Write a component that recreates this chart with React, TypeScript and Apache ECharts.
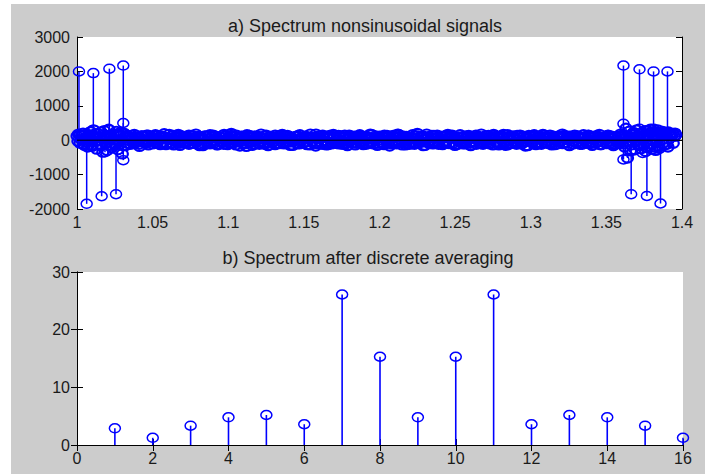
import React, { useEffect, useRef } from "react";
import * as echarts from "echarts";

// ---------- data ----------
// a) dense spectrum: sampled every 0.001 starting at 1.000
const noiseStep = 0.001;
const noiseStart = [
  120, 180, -90, 140, 210, -150, 90, -200, 160, 250,
  -180, 300, 110, -260, 190, -120, 240, -350, 280, 130,
  -300, 320, 150, -220, 180, -150, 260, -280, 170, 230,
  -400, 210, -160, 140, -100, 90,
];
const noiseMid = [
  60, -80, 110, -50, 90, -120, 70, 130, -60, 100, -90, 150, -40, 80, -110, 60, 140, -70, 50, -130,
  120, -60, 90, -100, 40, 170, -80, 60, -140, 110, -50, 80, -90, 130, -70, 100, -60, 90, -120, 50,
  140, -90, 70, -50, 110, -160, 80, 60, -100, 120, -70, 40, -110, 90, 150, -80, 60, -130, 100, -40,
  80, -120, 130, -60, 50, -90, 200, -70, 110, -140, 60, 90, -50, 120, -100, 70, -180, 80, 140, -60,
  90, -110, 60, 130, -80, 100, -50, 70, -120, 150, -90, 40, 110, -70, 80, -130, 60, 120, -100, 50,
  -80, 140, -60, 90, 110, -150, 70, -40, 100, -90, 130, -110, 60, 80, -70, 120, -50, 90, -140, 100,
  60, -80, 180, -100, 70, 50, -120, 110, -60, 90, -130, 140, -70, 40, 100, -90, 60, -110, 130, -50,
  80, 150, -100, 70, -60, 120, -80, 90, -140, 60, 110, -50, 130, -90, 70, -120, 100, 40, -70, 160,
  -110, 80, 60, -90, 120, -60, 100, -130, 70, 140, -80, 50, -100, 110, -70, 90, 180, -60, 120, -140,
  70, -90, 110, 60, -120, 80, -50, 130, -100, 200, -80, 90, -60, 120, -150, 70, 100, -90, 60, -110,
  140, -70, 80, -120, 50, 110, -90, 130, -60, 70, -100, 90, 150, -80, 60, -130, 100, -50, 80, -110,
  120, -70, 60, 140, -90, 100, -60, 80, -120, 110, 50, -100, 90, -70, 130, -80, 60, -110, 100, -140,
  70, 120, -60, 90, -100, 80, 170, -70, 60, -130, 110, -90, 50, 100, -60, 140, -80, 70, -110, 120,
  -50, 90, -160, 60, 110, -70, 130, -90, 80, -60, 100, -120, 70, 150, -80, 60, -100, 90, -70, 120,
  -130, 80, 110, -60, 90, -100, 140, -70, 60, -90, 120, 50, -110, 80, -60, 130, -80, 100, -120, 70,
  90, -60, 150, -100, 80, -70, 120, -90, 60, 110, -130, 70, -50, 100, -80, 140, -100, 60, 90, -120,
  80, -70, 120, -90, 110,
];
const noiseEnd = [
  160, -200, 350, -520, 260, -310, 180, 230, -280, 300,
  -150, 190, -250, 200, 140, -330, 280, -170, 220, -130,
  250, -200, 170, 300, -240, 150, -100, 210, 180, -120,
  240, 160, 130, 200, 110, 150,
];
// a second, interleaved set of samples (offset by half a step)
const noiseHalf = [
  -30, 150, 20, -110, 170, -60, 130, 10, -140, 80, 190, -20, 100, -170, 30, 160, -90, 50, -150, 110,
  0, -100, 180, -40, 120, 20, -160, 90, 140, -10, -120, 60, 170, -70, 30, -180, 130, 10, -50, 150,
  -140, 40, 100, -20, 160, -90, 0, 120, -60, 190, -130, 70, 20, -110, 140, -30, 80, 170, -150, 10,
  110, -70, 30, 150, -100, 60, -20, 180, -120, 90, 10, -160, 130, -40, 50, 160, -80, -10, 120, -140,
  40, 100, -60, 170, -20, -130, 80, 140, -90, 20, 150, -50, -170, 110, 30, -100, 160, -30, 70, -150,
  120, -10, 90, -120, 180, 40, -70, 130, -160, 10, 100, -40, 150, -90, 60, -20, 170, -110, 30, 140,
  -60, 80, -150, 20, 120, -100, 160, 0, -80, 110, -130, 50, 180, -30, 90, -170, 40, 130, -60, 150,
  -10, -140, 100, 60, -110, 170, -40, 20, 140, -80, -120, 90, 30, -160, 150, -20, 70, 120, -90, 10,
  160, -50, -130, 110, 40, -100, 180, -60, 20, 130, -150, 80, 0, -90, 150, -30, 110, -170, 60, 140,
  -20, -110, 170, 30, -70, 120, -140, 90, 10, -60, 160, -120, 50, 130, -40, 100, -160, 20, 180, -80,
  -10, 140, -100, 70, 150, -50, 30, -130, 110, -20, 170, -90, 60, 120, -150, 40, -30, 160, -70, 90,
  -110, 130, 20, -160, 100, -40, 150, 10, -80, 180, -120, 60, -20, 140, -100, 30, 170, -60, 110, -140,
  50, 120, -30, -150, 160, 0, -90, 130, 70, -120, 20, 150, -50, 100, -170, 40, 140, -10, -80, 160,
  -130, 90, 30, -100, 170, -60, 110, -20, 150, -140, 60, 10, -110, 130, -40, 180, -90, 20, 120, -160,
  70, -30, 150, -70, 100, -120, 40, 160, -10, -90, 140, 80, -150, 20, 110, -50, 170, -130, 60, 30,
  -100, 150, -20, 120, -160, 90, 10, -70, 180, -110, 40, 130, -40, 100, -140, 60, 160, -30, 80, -120,
  200, -150, 280, -220, 150, 320, -260, 120, -300, 240, -180, 190, 260, -140, 220, -200, 170, 130, -90, 210,
];

// large spectral lines
const spikeX = [
  1.0013, 1.0064, 1.0108, 1.0163, 1.0214, 1.0258, 1.0306, 1.0306, 1.0306, 1.0108, 1.0214, 1.0185,
  1.3613, 1.3613, 1.3613, 1.3664, 1.3719, 1.3768, 1.3812, 1.3858, 1.3904, 1.3719, 1.3812, 1.3740,
];
const spikeY = [
  2000, -1850, 1950, -1630, 2080, -1570, 2170, 500, -580, 300, 300, -350,
  2170, 480, -560, -1570, 2060, -1620, 2000, -1840, 2000, 330, 330, -370,
];

// b) spectrum after discrete averaging
const avgX = [1, 2, 3, 4, 5, 6, 7, 8, 9, 10, 11, 12, 13, 14, 15, 16];
const avgY = [2.9, 1.25, 3.35, 4.8, 5.2, 3.6, 26.1, 15.3, 4.8, 15.3, 26.1, 3.6, 5.2, 4.8, 3.35, 1.25];

const titleA = "a) Spectrum nonsinusoidal signals";
const titleB = "b) Spectrum after discrete averaging";

// ---------- helpers ----------
const FONT = "'Liberation Sans', Arial, sans-serif";
const BLUE = "#0000ff";

const makeStem = (rx: number, ry: number, lw: number, slw: number) => (params: any, api: any) => {
  const x = api.value(0);
  const y = api.value(1);
  const p0 = api.coord([x, 0]);
  const p1 = api.coord([x, y]);
  return {
    type: "group",
    children: [
      {
        type: "line",
        shape: { x1: p0[0], y1: p0[1], x2: p1[0], y2: p1[1] },
        style: { stroke: BLUE, lineWidth: slw },
      },
      {
        type: "ellipse",
        shape: { cx: p1[0], cy: p1[1], rx, ry },
        style: { fill: "none", stroke: BLUE, lineWidth: lw },
      },
    ],
  };
};

const axisCommon = {
  axisLine: { show: true, lineStyle: { color: "#000", width: 1 } },
  axisTick: { show: true, inside: true, length: 6, lineStyle: { color: "#000", width: 1 } },
  splitLine: { show: false },
};
const labelStyle = { color: "#1a1a1a", fontSize: 16, fontFamily: FONT };
const plain = (v: number) => String(Math.round(v * 100) / 100);

export default function App() {
  const ref = useRef<HTMLDivElement>(null);

  useEffect(() => {
    if (!ref.current) return;
    const chart = echarts.init(ref.current, undefined, { renderer: "svg" });

    const noiseAll = [...noiseStart, ...noiseMid, ...noiseEnd];
    const noiseData = noiseAll.map((v, i) => [1 + i * noiseStep, v]);
    const halfData = noiseHalf.map((v, i) => [1 + (i + 0.5) * noiseStep * (noiseAll.length - 1) / noiseHalf.length, v]);
    const spikeData = spikeX.map((x, i) => [x, spikeY[i]]);
    const avgData = avgX.map((x, i) => [x, avgY[i]]);

    const option: any = {
      animation: false,
      backgroundColor: "#ffffff",
      graphic: [
        {
          type: "rect",
          shape: { x: 11, y: 4, width: 705, height: 480 },
          style: { fill: "#cccccc" },
          z: -10,
          silent: true,
        },
        {
          type: "text",
          x: 365,
          y: 25.5,
          style: {
            text: titleA,
            fill: "#1a1a1a",
            font: `18px ${FONT}`,
            textAlign: "center",
            textVerticalAlign: "middle",
          },
        },
        {
          type: "text",
          x: 368,
          y: 257.5,
          style: {
            text: titleB,
            fill: "#1a1a1a",
            font: `18px ${FONT}`,
            textAlign: "center",
            textVerticalAlign: "middle",
          },
        },
      ],
      grid: [
        { left: 77, top: 37, width: 605, height: 172, show: true, backgroundColor: "#ffffff", borderWidth: 0 },
        { left: 77, top: 272, width: 606, height: 173, show: true, backgroundColor: "#ffffff", borderWidth: 0 },
      ],
      xAxis: [
        {
          type: "value", gridIndex: 0, min: 1, max: 1.4, interval: 0.05, position: "bottom",
          ...axisCommon,
          axisLabel: { ...labelStyle, margin: 5, formatter: plain },
        },
        {
          type: "value", gridIndex: 0, min: 1, max: 1.4, interval: 0.05, position: "top",
          ...axisCommon, axisLabel: { show: false },
        },
        {
          type: "value", gridIndex: 1, min: 0, max: 16, interval: 2, position: "bottom",
          ...axisCommon,
          axisLabel: { ...labelStyle, margin: 5, formatter: plain },
        },
        {
          type: "value", gridIndex: 1, min: 0, max: 16, interval: 2, position: "top",
          ...axisCommon, axisLabel: { show: false },
        },
      ],
      yAxis: [
        {
          type: "value", gridIndex: 0, min: -2000, max: 3000, interval: 1000, position: "left",
          ...axisCommon,
          axisLabel: { ...labelStyle, margin: 7, formatter: plain },
        },
        {
          type: "value", gridIndex: 0, min: -2000, max: 3000, interval: 1000, position: "right",
          ...axisCommon, axisLabel: { show: false },
        },
        {
          type: "value", gridIndex: 1, min: 0, max: 30, interval: 10, position: "left",
          ...axisCommon,
          axisLabel: { ...labelStyle, margin: 7, formatter: plain },
        },
        {
          type: "value", gridIndex: 1, min: 0, max: 30, interval: 10, position: "right",
          ...axisCommon, axisLabel: { show: false },
        },
      ],
      series: [
        {
          type: "custom", xAxisIndex: 0, yAxisIndex: 0, clip: false,
          renderItem: makeStem(5.5, 4.5, 2.2, 1.6), data: noiseData, encode: { x: 0, y: 1 }, silent: true,
        },
        {
          type: "custom", xAxisIndex: 0, yAxisIndex: 0, clip: false,
          renderItem: makeStem(5.5, 4.5, 2.2, 1.6), data: halfData, encode: { x: 0, y: 1 }, silent: true,
        },
        {
          type: "custom", xAxisIndex: 0, yAxisIndex: 0, clip: false,
          renderItem: makeStem(5.5, 4.5, 1.5, 1.5), data: spikeData, encode: { x: 0, y: 1 }, silent: true,
        },
        {
          type: "line", xAxisIndex: 0, yAxisIndex: 0, z: 10,
          data: [[1, 0], [1.4, 0]], symbol: "none",
          lineStyle: { color: "#000", width: 1 }, silent: true,
        },
        {
          type: "custom", xAxisIndex: 2, yAxisIndex: 2, clip: false,
          renderItem: makeStem(5.5, 4.5, 1.5, 1.6), data: avgData, encode: { x: 0, y: 1 }, silent: true,
        },
      ],
    };

    chart.setOption(option);
    return () => chart.dispose();
  }, []);

  return (
    <div
      ref={ref}
      style={{ position: "absolute", left: 0, top: 0, width: 705, height: 474 }}
    />
  );
}
